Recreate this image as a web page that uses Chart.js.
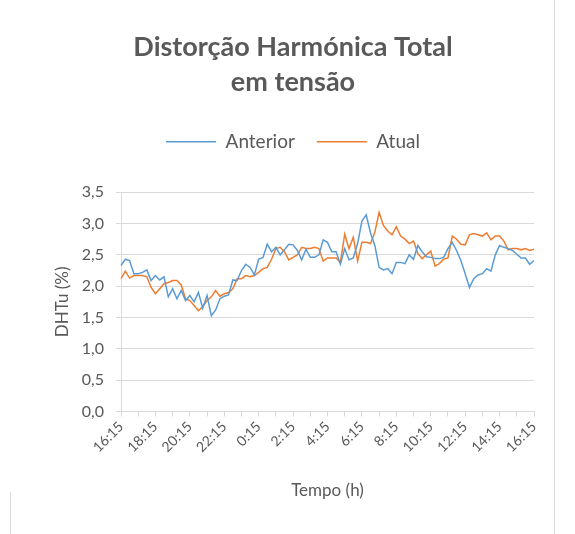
<!DOCTYPE html>
<html>
<head>
<meta charset="utf-8">
<script src="https://cdn.jsdelivr.net/npm/chart.js@4"></script>
<style>
  body { margin: 0; background: #fff; }
  #wrap { position: relative; width: 575px; height: 534px; }
  #edgeR { position: absolute; left: 554px; top: 0; width: 1px; height: 534px; background: #d9d9d9; }
  #edgeL { position: absolute; left: 10px; top: 492px; width: 1px; height: 42px; background: #d9d9d9; }
  canvas { position: absolute; left: 0; top: 0; }
</style>
</head>
<body>
<div id="wrap">
  <div id="edgeR"></div>
  <div id="edgeL"></div>
  <canvas id="lineChart" width="575" height="534"></canvas>
</div>
<script>
// 15 min samples, 16:15 -> 16:15
var categories = [];
for (var k = 0; k <= 96; k++) {
  var m = (16 * 60 + 15 + k * 15) % (24 * 60);
  categories.push(Math.floor(m / 60) + ":" + String(m % 60).padStart(2, "0"));
}
var tickLabels = ["16:15", "18:15", "20:15", "22:15", "0:15", "2:15", "4:15", "6:15", "8:15", "10:15", "12:15", "14:15", "16:15"];

var anterior = [2.33,2.43,2.41,2.2,2.2,2.22,2.26,2.09,2.17,2.1,
  2.15,1.83,1.96,1.8,1.93,1.77,1.85,1.75,1.9,1.65,
  1.85,1.53,1.62,1.8,1.84,1.86,2.1,2.09,2.25,2.35,
  2.3,2.18,2.43,2.46,2.67,2.55,2.62,2.5,2.58,2.67,
  2.66,2.57,2.42,2.59,2.46,2.46,2.5,2.74,2.7,2.55,
  2.55,2.35,2.6,2.42,2.45,2.68,3.04,3.14,2.85,2.65,
  2.3,2.26,2.28,2.2,2.38,2.38,2.36,2.5,2.43,2.65,
  2.55,2.47,2.46,2.44,2.44,2.46,2.6,2.7,2.57,2.41,
  2.2,1.98,2.12,2.18,2.2,2.28,2.24,2.5,2.65,2.62,
  2.6,2.57,2.51,2.45,2.45,2.35,2.41];

var atual = [2.12,2.24,2.13,2.17,2.17,2.17,2.15,1.98,1.88,1.96,
  2.04,2.06,2.09,2.09,2.02,1.8,1.77,1.69,1.61,1.67,
  1.77,1.83,1.93,1.84,1.88,1.9,1.96,2.12,2.12,2.17,
  2.15,2.17,2.22,2.28,2.3,2.43,2.6,2.62,2.55,2.42,
  2.46,2.5,2.62,2.6,2.6,2.62,2.6,2.4,2.45,2.45,
  2.45,2.38,2.83,2.6,2.78,2.4,2.7,2.7,2.68,2.86,
  3.18,2.97,2.88,2.82,2.95,2.8,2.75,2.68,2.72,2.52,
  2.44,2.5,2.56,2.32,2.36,2.43,2.45,2.8,2.75,2.67,
  2.66,2.82,2.84,2.82,2.8,2.85,2.74,2.8,2.8,2.72,
  2.58,2.6,2.6,2.58,2.6,2.57,2.59];

var txt = "#595959";
var grid = "#d9d9d9";
Chart.defaults.font.family = "Lato, 'Open Sans', sans-serif";
Chart.defaults.color = txt;

// extra room under the legend
var legendGap = {
  id: "legendGap",
  beforeInit: function (chart) {
    var fit = chart.legend.fit;
    chart.legend.fit = function () {
      fit.bind(chart.legend)();
      this.height += 31;
    };
  }
};

var chart = new Chart("lineChart", {
  type: "line",
  data: {
    labels: categories,
    datasets: [{
      label: "Anterior",
      data: anterior,
      borderColor: "#5B9BD5",
      backgroundColor: "#5B9BD5",
      borderWidth: 1.5,
      pointRadius: 0,
      pointStyle: "line",
      tension: 0
    }, {
      label: "Atual",
      data: atual,
      borderColor: "#ED7D31",
      backgroundColor: "#ED7D31",
      borderWidth: 1.5,
      pointRadius: 0,
      pointStyle: "line",
      tension: 0
    }]
  },
  options: {
    responsive: false,
    animation: false,
    layout: { padding: { left: 52, right: 41, top: 0, bottom: 30 } },
    plugins: {
      title: {
        display: true,
        text: ["Distorção Harmónica Total", "em tensão"],
        color: txt,
        font: { size: 27, weight: "bold", lineHeight: 1.3 },
        padding: { top: 30, bottom: 10 }
      },
      legend: {
        display: true,
        labels: {
          usePointStyle: true,
          pointStyleWidth: 50,
          color: txt,
          font: { size: 19 },
          padding: 22
        }
      },
      tooltip: { enabled: false }
    },
    scales: {
      x: {
        grid: {
          drawOnChartArea: false,
          tickLength: 5,
          color: grid,
          tickColor: function (ctx) { return ctx.index % 4 === 0 ? grid : "rgba(0,0,0,0)"; }
        },
        border: { color: grid },
        ticks: {
          autoSkip: false,
          maxRotation: 45,
          minRotation: 45,
          color: txt,
          font: { size: 14 },
          padding: 2,
          callback: function (v, i) { return i % 8 === 0 ? tickLabels[i / 8] : ""; }
        },
        title: { display: true, text: "Tempo (h)", color: txt, font: { size: 17 }, padding: { top: 4, bottom: 3 } },
        afterFit: function (s) { s.height = 92.5; }
      },
      y: {
        min: 0,
        max: 3.5,
        grid: { color: grid, tickLength: 5 },
        border: { color: grid },
        ticks: {
          stepSize: 0.5,
          color: txt,
          font: { size: 16 },
          padding: 12,
          callback: function (v) { return v.toFixed(1).replace(".", ","); }
        },
        title: { display: true, text: "DHTu (%)", color: txt, font: { size: 17 }, padding: { top: 0, bottom: 0 } },
        afterFit: function (s) { s.width = 69; }
      }
    }
  },
  plugins: [legendGap]
});
</script>
</body>
</html>
